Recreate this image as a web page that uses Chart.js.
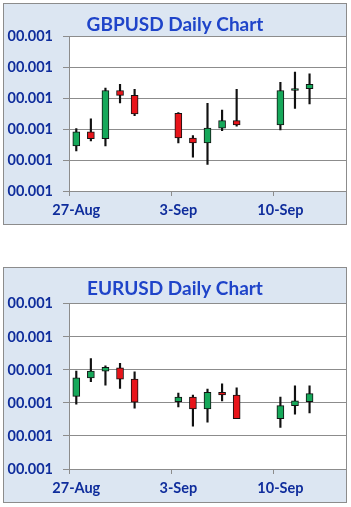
<!DOCTYPE html>
<html>
<head>
<meta charset="utf-8">
<script src="https://cdn.jsdelivr.net/npm/chart.js@4.4.0/dist/chart.umd.min.js"></script>
<style>
    body { margin: 0; background: #fff; width: 351px; height: 507px; position: relative; overflow: hidden; }
    .panel { position: absolute; left: 4px; background: #dce6f2; outline: 1.5px solid #8c8c8c; }
    canvas { display: block; }
</style>
</head>
<body>
<div class="panel" style="top:4px;width:342px;height:220px"><canvas id="gbpChart" width="342" height="220"></canvas></div>
<div class="panel" style="top:268px;width:342px;height:234px"><canvas id="eurChart" width="342" height="234"></canvas></div>

<script>
// trading days, weekends left empty
const days = ['27-Aug', '28-Aug', '29-Aug', '30-Aug', '31-Aug', '1-Sep', '2-Sep',
              '3-Sep', '4-Sep', '5-Sep', '6-Sep', '7-Sep', '8-Sep', '9-Sep',
              '10-Sep', '11-Sep', '12-Sep', '13-Sep', '14-Sep'];
const labelDays = ['27-Aug', '3-Sep', '10-Sep'];
const yTickLabel = '00.001';

const gbpOpen  = [1.2873, 1.2896, 1.2885, 1.2963, 1.2955, null, null, 1.2926, 1.2886, 1.2878, 1.2902, 1.2914, null, null, 1.2907, 1.2963, 1.2966, null, null];
const gbpHigh  = [1.2901, 1.2917, 1.2967, 1.2973, 1.2965, null, null, 1.2927, 1.2890, 1.2942, 1.2931, 1.2965, null, null, 1.2976, 1.2993, 1.2990, null, null];
const gbpLow   = [1.2865, 1.2881, 1.2873, 1.2943, 1.2922, null, null, 1.2878, 1.2855, 1.2843, 1.2898, 1.2905, null, null, 1.2899, 1.2934, 1.2941, null, null];
const gbpClose = [1.2896, 1.2885, 1.2963, 1.2955, 1.2925, null, null, 1.2886, 1.2878, 1.2902, 1.2914, 1.2907, null, null, 1.2963, 1.2966, 1.2973, null, null];

const eurOpen  = [1.1610, 1.1638, 1.1648, 1.1653, 1.1636, null, null, 1.1602, 1.1609, 1.1591, 1.1616, 1.1612, null, null, 1.1576, 1.1596, 1.1602, null, null];
const eurHigh  = [1.1648, 1.1667, 1.1656, 1.1660, 1.1647, null, null, 1.1615, 1.1612, 1.1621, 1.1629, 1.1623, null, null, 1.1609, 1.1626, 1.1626, null, null];
const eurLow   = [1.1598, 1.1632, 1.1627, 1.1622, 1.1592, null, null, 1.1594, 1.1565, 1.1571, 1.1603, 1.1576, null, null, 1.1563, 1.1583, 1.1585, null, null];
const eurClose = [1.1638, 1.1648, 1.1654, 1.1636, 1.1601, null, null, 1.1609, 1.1591, 1.1616, 1.1612, 1.1576, null, null, 1.1596, 1.1603, 1.1614, null, null];

const UP = '#16a85a', DOWN = '#e8141a';
const GRID = '#8c8c8c';
const LABEL_BLUE = '#0f2d9c', TITLE_BLUE = '#1f44c9';
const FONT = 'Lato, "Open Sans", sans-serif';

// white plot area on the blue panel
const plotBg = {
    id: 'plotBg',
    beforeDraw(chart) {
        const { ctx, chartArea: a } = chart;
        ctx.save();
        ctx.fillStyle = '#fff';
        ctx.fillRect(a.left, a.top, a.right - a.left, a.bottom - a.top);
        ctx.restore();
    }
};

function pairs(a, b) {
    return a.map((v, i) => (v == null ? null : [a[i], b[i]]));
}

function renderCandles(canvasId, title, open, high, low, close, yMin, yMax, step, titlePad) {
    const ctx = document.getElementById(canvasId).getContext('2d');
    return new Chart(ctx, {
        type: 'bar',
        data: {
            labels: days,
            datasets: [{
                label: 'body',
                data: pairs(open, close),
                backgroundColor: open.map((o, i) => (close[i] >= o ? UP : DOWN)),
                borderColor: '#111',
                borderWidth: 1,
                borderSkipped: false,
                barThickness: 7,
                grouped: false,
                order: 0
            }, {
                label: 'wick',
                data: pairs(low, high),
                backgroundColor: '#111',
                barThickness: 1.5,
                grouped: false,
                order: 1
            }]
        },
        options: {
            responsive: false,
            animation: false,
            layout: { padding: { left: 0, right: 0, top: 0, bottom: 0 } },
            plugins: {
                legend: { display: false },
                tooltip: { enabled: false },
                title: {
                    display: true,
                    text: title,
                    color: TITLE_BLUE,
                    font: { family: FONT, size: 19, weight: 'bold' },
                    padding: titlePad
                }
            },
            scales: {
                x: {
                    offset: true,
                    grid: {
                        offset: true,
                        drawOnChartArea: false,
                        tickLength: 5,
                        tickColor: c => (c.index % 7 === 0 ? GRID : 'rgba(0,0,0,0)')
                    },
                    border: { color: GRID },
                    ticks: {
                        autoSkip: false,
                        maxRotation: 0,
                        padding: 6,
                        color: LABEL_BLUE,
                        font: { family: FONT, size: 14.5, weight: 'bold' },
                        callback: function (v) {
                            const d = this.getLabelForValue(v);
                            return labelDays.includes(d) ? d : '';
                        }
                    },
                    afterFit: s => { s.height = 33; }
                },
                y: {
                    min: yMin,
                    max: yMax,
                    grid: { color: GRID, tickLength: 6 },
                    border: { color: GRID },
                    ticks: {
                        stepSize: step,
                        padding: 10,
                        color: LABEL_BLUE,
                        font: { family: FONT, size: 14.5, weight: 'bold' },
                        callback: () => yTickLabel
                    },
                    afterFit: s => { s.width = 65; }
                }
            }
        },
        plugins: [plotBg]
    });
}

window.addEventListener('load', () => {
    renderCandles('gbpChart', 'GBPUSD Daily Chart', gbpOpen, gbpHigh, gbpLow, gbpClose,
        1.280, 1.305, 0.005, { top: 9, bottom: 1 });
    renderCandles('eurChart', 'EURUSD Daily Chart', eurOpen, eurHigh, eurLow, eurClose,
        1.150, 1.175, 0.005, { top: 9, bottom: 4 });
});
</script>
</body>
</html>
